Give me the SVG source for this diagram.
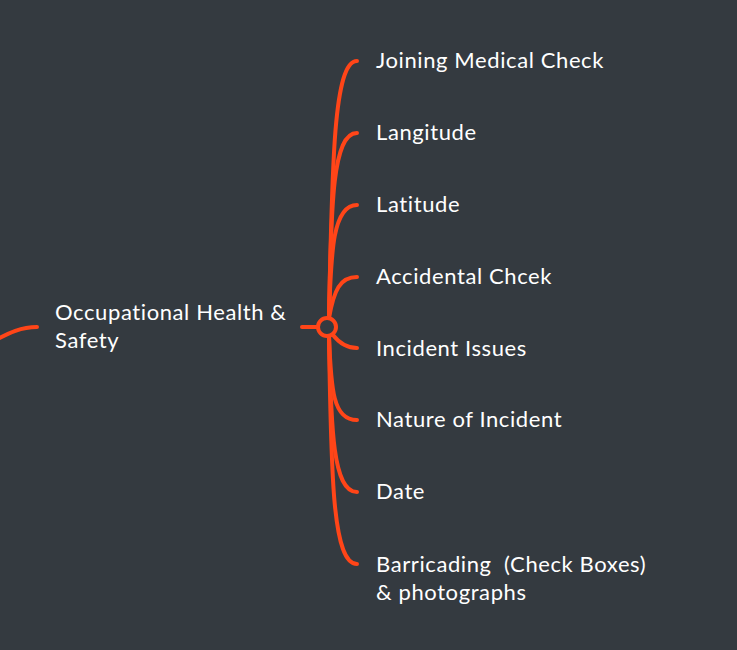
<svg xmlns="http://www.w3.org/2000/svg" width="737" height="650" viewBox="0 0 737 650">
<style>
.bg{fill:#343a40}
.ln{fill:none;stroke:#ff4518;stroke-width:4;stroke-linecap:round}
.t{font-family:Lato,"Open Sans","Liberation Sans",sans-serif;font-size:22px;letter-spacing:0.6px;fill:#ffffff}
</style>
<rect class="bg" x="0" y="0" width="737" height="650"/>
<g id="connectors">
<path class="ln" d="M-10,343 C10,332 22,327 37,327"/>
<path class="ln" d="M302,327 L317,327"/>
<circle cx="327" cy="327" r="9" fill="none" stroke="#ff4518" stroke-width="4"/>
<path class="ln" d="M329,318 C332,160 334,61 357,61"/>
<path class="ln" d="M329,318 C331,200 333,133 357,133"/>
<path class="ln" d="M329,318 C331,250 333,205 357,205"/>
<path class="ln" d="M329,318 C334,290 340,277 357,277"/>
<path class="ln" d="M333,335 C340,344 348,348 357,348"/>
<path class="ln" d="M329,336 C331,390 333,420 357,420"/>
<path class="ln" d="M329,336 C331,430 333,492 357,492"/>
<path class="ln" d="M329,336 C331,480 333,564 357,564"/>
</g>
<g id="node-root"><text class="t" x="55" y="320">Occupational Health &amp;</text><text class="t" x="55" y="348">Safety</text></g>
<g id="node-1"><text class="t" x="376" y="68">Joining Medical Check</text></g>
<g id="node-2"><text class="t" x="376" y="140">Langitude</text></g>
<g id="node-3"><text class="t" x="376" y="212">Latitude</text></g>
<g id="node-4"><text class="t" x="376" y="284">Accidental Chcek</text></g>
<g id="node-5"><text class="t" x="376" y="356">Incident Issues</text></g>
<g id="node-6"><text class="t" x="376" y="427">Nature of Incident</text></g>
<g id="node-7"><text class="t" x="376" y="499">Date</text></g>
<g id="node-8"><text class="t" x="376" y="572" xml:space="preserve">Barricading  (Check Boxes)</text><text class="t" x="376" y="600">&amp; photographs</text></g>
</svg>
